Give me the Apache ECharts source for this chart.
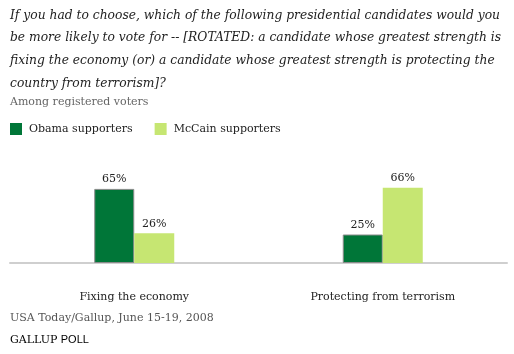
<!DOCTYPE html>
<html>
<head>
<meta charset="utf-8">
<script src="https://cdn.jsdelivr.net/npm/echarts@6/dist/echarts.min.js"></script>
<style>
	html, body { margin: 0; padding: 0; background: #fff; }
	#chart { width: 514px; height: 354px; }
</style>
</head>
<body>
<div id="chart"></div>
<script>
var categories = ['Fixing the economy', 'Protecting from terrorism'];
var obamaValues = [65, 25];
var mccainValues = [26, 66];
var seriesNames = ['Obama supporters', 'McCain supporters'];

var questionLines = [
	'If you had to choose, which of the following presidential candidates would you',
	'be more likely to vote for -- [ROTATED: a candidate whose greatest strength is',
	'fixing the economy (or) a candidate whose greatest strength is protecting the',
	'country from terrorism]?'
];

var serif = '"DejaVu Serif", "Liberation Serif", serif';
var chart = echarts.init(document.getElementById('chart'));

var option = {
	animation: false,
	backgroundColor: '#fff',
	title: [{
		text: questionLines.join('\n'),
		left: 10, top: 4, padding: 0,
		textStyle: {fontFamily: serif, fontStyle: 'italic', fontWeight: 'normal', fontSize: 12.3, lineHeight: 22.7, color: '#222'}
	}, {
		text: 'Among registered voters',
		left: 10, top: 97, padding: 0,
		textStyle: {fontFamily: serif, fontWeight: 'normal', fontSize: 11, color: '#666'}
	}, {
		text: 'USA Today/Gallup, June 15-19, 2008',
		left: 10, top: 313, padding: 0,
		textStyle: {fontFamily: serif, fontWeight: 'normal', fontSize: 11, color: '#555'}
	}],
	graphic: [{
		type: 'text', left: 10, top: 334,
		style: {
			text: '{a|GALLUP} {b|POLL}',
			rich: {
				a: {fontFamily: serif, fontSize: 11, color: '#777'},
				b: {fontFamily: '"Liberation Sans", sans-serif', fontSize: 11, color: '#aaa'}
			}
		}
	}],
	legend: {
		left: 10, top: 123, padding: 0,
		itemWidth: 12, itemHeight: 12, itemGap: 22,
		icon: 'rect',
		itemStyle: {borderWidth: 0},
		data: seriesNames,
		textStyle: {fontFamily: serif, fontSize: 11, color: '#222', padding: [0, 0, 0, 2]}
	},
	grid: {left: 10, right: 7, top: 149, bottom: 91},
	xAxis: {
		type: 'category',
		data: categories,
		axisTick: {show: false},
		axisLine: {lineStyle: {color: '#cfcfcf', width: 2}},
		axisLabel: {fontFamily: serif, fontSize: 11, color: '#222', margin: 29}
	},
	yAxis: {type: 'value', min: 0, max: 100, show: false, splitLine: {show: false}},
	series: [{
		name: seriesNames[0], type: 'bar', data: obamaValues,
		barWidth: 40, barGap: '0%',
		itemStyle: {color: '#007638', borderColor: '#8a8a8a', borderWidth: 1},
		label: {show: true, position: 'top', formatter: '{c}%', fontFamily: serif, fontSize: 11, color: '#222', distance: 4}
	}, {
		name: seriesNames[1], type: 'bar', data: mccainValues,
		barWidth: 40, barGap: '0%',
		itemStyle: {color: '#c6e672'},
		label: {show: true, position: 'top', formatter: '{c}%', fontFamily: serif, fontSize: 11, color: '#222', distance: 4}
	}]
};

chart.setOption(option);
</script>
</body>
</html>
